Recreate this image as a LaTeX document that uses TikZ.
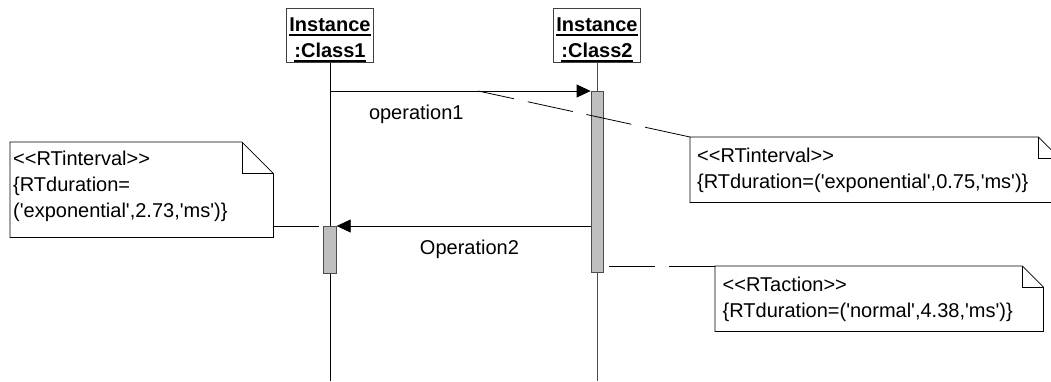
\documentclass[tikz,border=0pt]{standalone}
\usepackage{fontspec}
\setmainfont{Liberation Sans}[Ligatures=TeXOff]
\usepackage{tikz}
\usetikzlibrary{arrows.meta}

\newcommand{\undl}[1]{\setbox0\hbox{#1}\rlap{\rule[-3.8pt]{\wd0}{1.6pt}}\box0}
\newcommand{\instname}[2]{\vtop{\halign{\hfil##\hfil\cr\undl{#1}\cr\undl{#2}\cr}}}

\tikzstyle{instance} = [rectangle, draw=black!75, line width=1pt, anchor=north west, minimum width=87pt, minimum height=54pt, inner xsep=0pt, inner ysep=0.5pt, text height=22.8pt, text depth=30.2pt, font=\fontsize{20}{26}\selectfont\bfseries]
\tikzstyle{lifeline} = [line width=0.8pt]
\tikzstyle{activation} = [rectangle, anchor=north, draw=black!70, fill=black!25, line width=0.8pt, inner sep=0pt]
\tikzstyle{message} = [line width=0.8pt, -{Triangle[length=14pt, width=13pt]}]
\tikzstyle{note} = [rectangle, anchor=north west, inner ysep=0pt, align=left, font=\fontsize{20}{26}\selectfont]
\tikzstyle{noteline} = [line width=0.8pt, dash pattern=on 46pt off 14pt]
\tikzstyle{notebox} = [line width=0.8pt]

\begin{document}
\begin{tikzpicture}[x=1pt, y=-1pt, font=\fontsize{20}{26}\selectfont]

\useasboundingbox (0,0) rectangle (1051,381);
\coordinate (bottom) at (0,381);

\node (inst1) [instance] at (286,8) {\instname{Instance}{:Class1}};
\node (inst2) [instance] at (553,8) {\instname{Instance}{:Class2}};

\draw [lifeline] (inst1.south) -- (inst1.south |- bottom);
\draw [lifeline, draw=black!70] (inst2.south) -- (inst2.south |- bottom);

\node (act2) [activation, minimum width=12pt, minimum height=181pt] at ([yshift=-28pt]inst2.south) {};
\node (act1) [activation, minimum width=12.5pt, minimum height=47pt] at ([yshift=-163pt]inst1.south) {};

\draw [message] (inst1.south |- act2.north) -- coordinate[pos=0.569] (op1anchor) node[pos=0.331, anchor=base, yshift=-28pt] (op1) {operation1} (act2.north west);
\draw [message] (act2.west |- act1.north) -- node[pos=0.477, anchor=base, yshift=-28pt] (op2) {Operation2} (act1.north east);

\node (notecls1) [note, inner xsep=3pt, text width=257pt, text height=23pt, text depth=72pt] at (10,142) {<<RTinterval>>\\\{RTduration=\\('exponential',2.73,'ms')\}};
\node (noteop1) [note, inner xsep=7pt, text width=355pt, text height=25pt, text depth=40pt] at (690,137) {<<RTinterval>>\\\{RTduration=('exponential',0.75,'ms')\}};
\node (noteact) [note, inner xsep=7.5pt, text width=313pt, text height=25.7pt, text depth=39.3pt] at (715,266) {<<RTaction>>\\\{RTduration=('normal',4.38,'ms')\}};

\draw [noteline] (notecls1.east |- act1.north) -- (act1.north west);
\draw [noteline] (noteop1.north west) -- (op1anchor);
\draw [noteline] (noteact.north west) -- (act2.east |- noteact.north west);

% dog-eared note outlines
\foreach \n/\f in {notecls1/31.5, noteop1/21, noteact/21} {
  \draw [notebox] (\n.north west) -- ([xshift=-\f pt]\n.north east) -- ([yshift=-\f pt]\n.north east) -- (\n.south east) -- (\n.south west) -- cycle;
  \draw [notebox] ([xshift=-\f pt]\n.north east) |- ([yshift=-\f pt]\n.north east);
}

\end{tikzpicture}
\end{document}
